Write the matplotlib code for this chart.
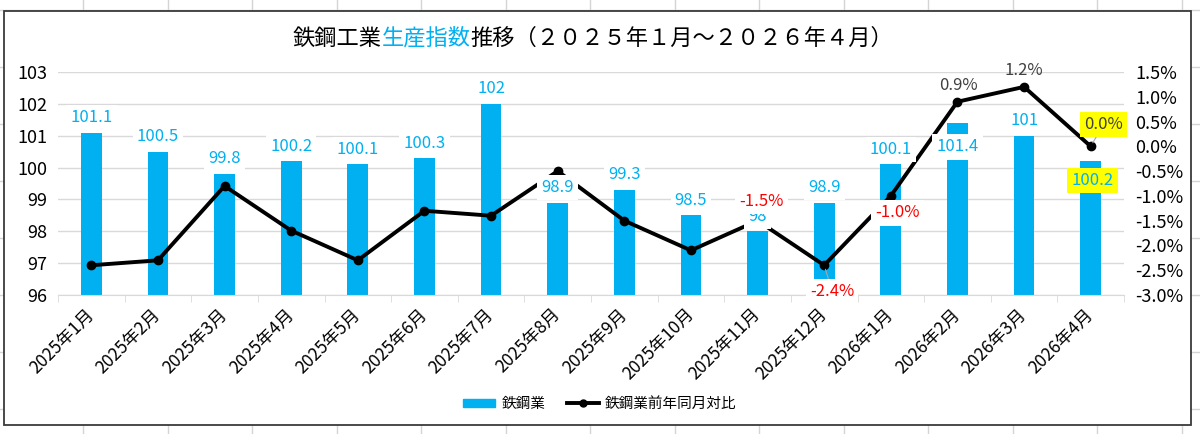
import numpy as np
import matplotlib
matplotlib.use('Agg')
from matplotlib import pyplot as plt
from matplotlib.patches import Rectangle, Patch
from matplotlib.lines import Line2D
from matplotlib.offsetbox import TextArea, HPacker, AnnotationBbox
from matplotlib.transforms import ScaledTranslation

plt.rcParams['font.family'] = ['Noto Sans CJK JP', 'DejaVu Sans']

months = ['2025年1月', '2025年2月', '2025年3月', '2025年4月', '2025年5月', '2025年6月',
          '2025年7月', '2025年8月', '2025年9月', '2025年10月', '2025年11月', '2025年12月',
          '2026年1月', '2026年2月', '2026年3月', '2026年4月']
index_vals = [101.1, 100.5, 99.8, 100.2, 100.1, 100.3, 102, 98.9,
              99.3, 98.5, 98, 98.9, 100.1, 101.4, 101, 100.2]
yoy_pct = [-2.4, -2.3, -0.8, -1.7, -2.3, -1.3, -1.4, -0.5,
           -1.5, -2.1, -1.5, -2.4, -1.0, 0.9, 1.2, 0.0]
left_ticks = [96, 97, 98, 99, 100, 101, 102, 103]
right_ticks = [-3.0, -2.5, -2.0, -1.5, -1.0, -0.5, 0.0, 0.5, 1.0, 1.5]
title_parts = [('鉄鋼工業', 'black'), ('生産指数', '#00B0F0'),
               ('推移（２０２５年１月～２０２６年４月）', 'black')]

BLUE = '#00B0F0'
RED = '#FF0000'
GRAY = '#404040'
W, H = 1200, 434


def fx(px):
    return px / W


def fy(py):
    return 1 - py / H


fig = plt.figure(figsize=(12, 4.34), dpi=100)

# spreadsheet cells behind the chart
for gx in np.arange(83, 1200, 84.5):
    fig.add_artist(Line2D([fx(gx), fx(gx)], [0, 1], color='#D4D4D4', lw=1, zorder=-3))
for gy in np.arange(10, 434, 57):
    fig.add_artist(Line2D([0, 1], [fy(gy), fy(gy)], color='#D4D4D4', lw=1, zorder=-3))

# chart area
fig.add_artist(Rectangle((fx(4), fy(425)), fx(1191) - fx(4), fy(11) - fy(425),
                         transform=fig.transFigure, facecolor='white',
                         edgecolor='#3A3A3A', lw=1.3, zorder=-2))

ax = fig.add_axes([fx(58), fy(295), fx(1124) - fx(58), fy(72) - fy(295)])
ax.patch.set_alpha(0)
x = np.arange(len(months))

ax.bar(x, index_vals, width=0.31, color=BLUE, zorder=2)
ax.set_xlim(-0.5, len(months) - 0.5)
ax.set_ylim(96, 103)
ax.set_yticks(left_ticks)
ax.set_yticklabels([str(t) for t in left_ticks], fontsize=13)
ax.yaxis.grid(True, color='#D9D9D9', lw=1, zorder=0)
ax.set_axisbelow(True)
for s in ['top', 'left', 'right']:
    ax.spines[s].set_visible(False)
ax.spines['bottom'].set_color('#D9D9D9')
ax.tick_params(axis='y', length=0, pad=8)

ax.set_xticks(x)
ax.set_xticklabels(months, fontsize=12.5)
shift = ScaledTranslation(5 / 100, 0, fig.dpi_scale_trans)
for lab in ax.get_xticklabels():
    lab.set_rotation(45)
    lab.set_ha('right')
    lab.set_va('center')
    lab.set_rotation_mode('anchor')
    lab.set_transform(lab.get_transform() + shift)
ax.tick_params(axis='x', which='major', length=0, pad=12)
ax.set_xticks(np.arange(-0.5, len(months), 1), minor=True)
ax.tick_params(axis='x', which='minor', length=5, color='#D9D9D9')

ax2 = ax.twinx()
ax2.plot(x, yoy_pct, color='black', lw=2.8, marker='o', ms=6, zorder=3)
ax2.set_ylim(-3.0, 1.5)
ax2.set_yticks(right_ticks)
ax2.set_yticklabels(['%.1f%%' % t for t in right_ticks], fontsize=13)
ax2.tick_params(axis='y', length=0, pad=8)
for s in ['top', 'left', 'right', 'bottom']:
    ax2.spines[s].set_visible(False)

# bar value labels (drawn on ax2 so they sit over the line)
bar_offsets = {13: (0, -24), 15: (2, -19)}
for i, v in enumerate(index_vals):
    dx, dy = bar_offsets.get(i, (0, 15))
    face = '#FFFF00' if i == 15 else 'white'
    ax2.annotate('%g' % v, xy=(i, v), xycoords=ax.transData,
                 xytext=(dx, dy), textcoords='offset pixels',
                 ha='center', va='center', fontsize=12, color=BLUE, zorder=5,
                 bbox=dict(boxstyle='square,pad=0.25', fc=face, ec='none'))

# line value labels
line_labels = {10: (4, 19, RED, 'white', False),
               11: (8, -26, RED, 'white', True),
               12: (7, -17, RED, 'white', False),
               13: (1, 16, GRAY, 'none', False),
               14: (0, 16, GRAY, 'none', False),
               15: (13, 22, GRAY, '#FFFF00', True)}
for i, (dx, dy, col, face, leader) in line_labels.items():
    arrow = dict(arrowstyle='-', color='#A6A6A6', lw=0.8, shrinkA=0, shrinkB=3) if leader else None
    ax2.annotate('%.1f%%' % yoy_pct[i], xy=(i, yoy_pct[i]),
                 xytext=(dx, dy), textcoords='offset pixels',
                 ha='center', va='center', fontsize=12, color=col, zorder=6,
                 arrowprops=arrow,
                 bbox=dict(boxstyle='square,pad=0.25', fc=face, ec='none'))

# title with coloured middle part
parts = [TextArea(s, textprops=dict(color=c, fontsize=16)) for s, c in title_parts]
pack = HPacker(children=parts, align='baseline', pad=0, sep=0)
fig.add_artist(AnnotationBbox(pack, (fx(593), fy(38)), xycoords='figure fraction',
                              frameon=False, box_alignment=(0.5, 0.5)))

handles = [Patch(color=BLUE, label='鉄鋼業'),
           Line2D([], [], color='black', lw=2.8, marker='o', ms=5, label='鉄鋼業前年同月対比')]
fig.legend(handles=handles, loc='center', bbox_to_anchor=(fx(600), fy(404)), ncol=2,
           frameon=False, fontsize=10.5, handlelength=2.2, handleheight=0.5,
           columnspacing=1.5, handletextpad=0.4)

plt.savefig('out.png', dpi=100)
